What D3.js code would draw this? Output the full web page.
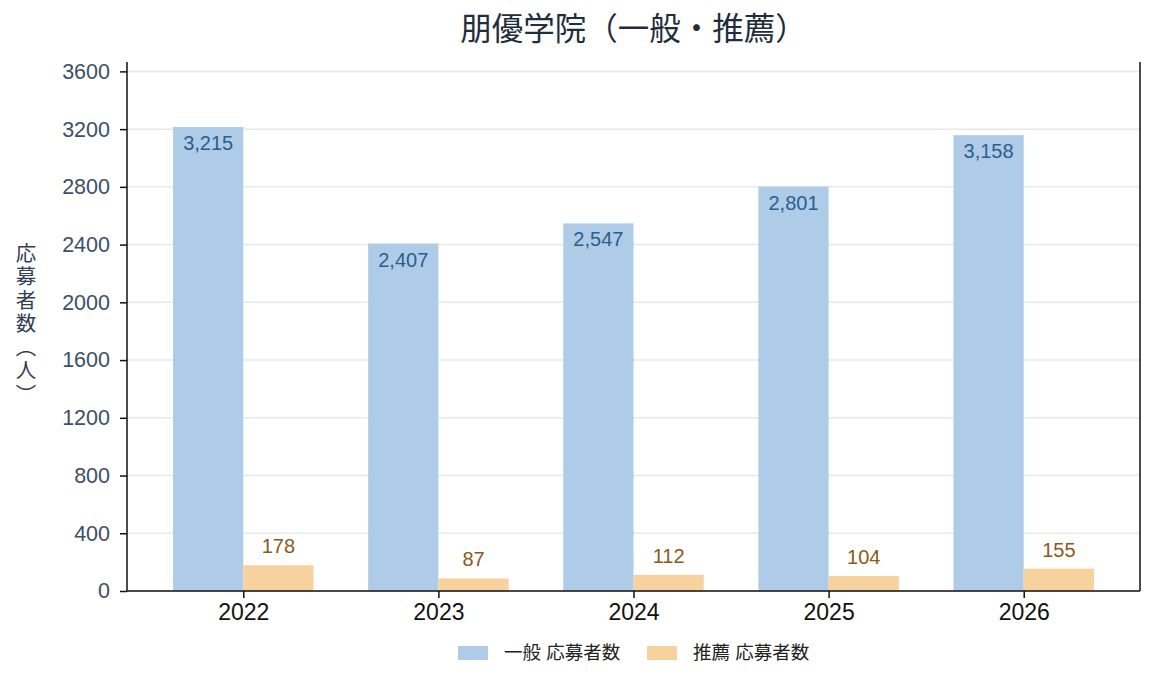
<!DOCTYPE html>
<html>
<head>
<meta charset="utf-8">
<script src="https://cdn.jsdelivr.net/npm/d3@7"></script>
<style>
  body { margin: 0; background: #fff; }
  text { font-family: "Liberation Sans", "Noto Sans CJK JP", sans-serif; }
</style>
</head>
<body>
<div class="chart"></div>
<script>
var years = ["2022", "2023", "2024", "2025", "2026"];
var ippan = [3215, 2407, 2547, 2801, 3158];
var suisen = [178, 87, 112, 104, 155];
var seriesNames = ["一般 応募者数", "推薦 応募者数"];
var yTicks = [0, 400, 800, 1200, 1600, 2000, 2400, 2800, 3200, 3600];

var width = 1155, height = 686;
var margin = { top: 62, left: 127, right: 15, bottom: 95 };
var innerW = width - margin.left - margin.right,
    innerH = height - margin.top - margin.bottom;

var barW = 0.36;
var colors = ["#aecbe8", "#f7d29e"];
var labelColors = ["#2b5f8e", "#8b5a1b"];

var svg = d3.select(".chart").append("svg")
    .attr("width", width)
    .attr("height", height);

var g = svg.append("g")
    .attr("transform", "translate(" + margin.left + "," + margin.top + ")");

// matplotlib-like 5% margins around the bars
var lo = -barW, hi = years.length - 1 + barW;
var pad = (hi - lo) * 0.05;
var x = d3.scaleLinear().domain([lo - pad, hi + pad]).range([0, innerW]);
var y = d3.scaleLinear().domain([0, d3.max(ippan) * 1.14]).range([innerH, 0]);

// grid
g.selectAll(".grid")
    .data(yTicks)
    .enter().append("line")
    .attr("x1", 0).attr("x2", innerW)
    .attr("y1", function(d) { return y(d); })
    .attr("y2", function(d) { return y(d); })
    .attr("stroke", "#e8e8e8")
    .attr("stroke-width", 1.5);

// bars
var bw = x(barW) - x(0);
var series = [ippan, suisen];
series.forEach(function(vals, s) {
    g.selectAll(".bar" + s)
        .data(vals)
        .enter().append("rect")
        .attr("x", function(d, i) { return x(i) - (s === 0 ? bw : 0); })
        .attr("y", function(d) { return y(d); })
        .attr("width", bw)
        .attr("height", function(d) { return innerH - y(d); })
        .attr("fill", colors[s]);
});

// value labels
g.selectAll(".lab0")
    .data(ippan)
    .enter().append("text")
    .attr("x", function(d, i) { return x(i) - bw / 2; })
    .attr("y", function(d) { return y(d) + 23; })
    .attr("text-anchor", "middle")
    .attr("font-size", 20)
    .attr("fill", labelColors[0])
    .text(function(d) { return d3.format(",")(d); });

g.selectAll(".lab1")
    .data(suisen)
    .enter().append("text")
    .attr("x", function(d, i) { return x(i) + bw / 2; })
    .attr("y", function(d) { return y(d) - 12; })
    .attr("text-anchor", "middle")
    .attr("font-size", 20)
    .attr("fill", labelColors[1])
    .text(function(d) { return d3.format(",")(d); });

// axes
var yAxis = g.append("g")
    .call(d3.axisLeft(y).tickValues(yTicks).tickSize(7).tickPadding(10).tickFormat(d3.format("d")));
yAxis.select(".domain").remove();
yAxis.selectAll("line").attr("stroke", "#111").attr("stroke-width", 1.5);
yAxis.selectAll("text").attr("font-size", 21.5).attr("fill", "#3d4f66")
    .style("font-family", "'Liberation Sans', sans-serif");

var xAxis = g.append("g")
    .attr("transform", "translate(0," + innerH + ")")
    .call(d3.axisBottom(x).tickValues(d3.range(years.length)).tickSize(7).tickPadding(6)
        .tickFormat(function(d) { return years[d]; }));
xAxis.select(".domain").remove();
xAxis.selectAll("line").attr("stroke", "#111").attr("stroke-width", 1.5);
xAxis.selectAll("text").attr("font-size", 23).attr("fill", "#111")
    .style("font-family", "'Liberation Sans', sans-serif");

// spines: left, right, bottom
g.append("line").attr("x1", 0).attr("x2", 0).attr("y1", 0).attr("y2", innerH)
    .attr("stroke", "#111").attr("stroke-width", 1.5);
g.append("line").attr("x1", innerW).attr("x2", innerW).attr("y1", 0).attr("y2", innerH)
    .attr("stroke", "#111").attr("stroke-width", 1.5);
g.append("line").attr("x1", 0).attr("x2", innerW).attr("y1", innerH).attr("y2", innerH)
    .attr("stroke", "#111").attr("stroke-width", 1.5);

// title
svg.append("text")
    .attr("x", margin.left + innerW / 2)
    .attr("y", 40)
    .attr("text-anchor", "middle")
    .attr("font-size", 31.5)
    .attr("fill", "#1f2d3d")
    .text("朋優学院（一般・推薦）");

// y label, vertical
svg.append("text")
    .attr("x", 26)
    .attr("y", 325)
    .attr("text-anchor", "middle")
    .style("writing-mode", "vertical-rl")
    .style("font-family", "'Noto Sans CJK JP', sans-serif")
    .style("letter-spacing", "3px")
    .attr("font-size", 20.5)
    .attr("fill", "#2f3e52")
    .text("応募者数（人）");

// legend
var legend = svg.append("g").attr("transform", "translate(458,646)");
var legX = [0, 189];
seriesNames.forEach(function(name, i) {
    legend.append("rect")
        .attr("x", legX[i]).attr("y", 0)
        .attr("width", 30).attr("height", 14)
        .attr("fill", colors[i]);
    legend.append("text")
        .attr("x", legX[i] + 46).attr("y", 13)
        .attr("font-size", 18.5)
        .attr("fill", "#222")
        .text(name);
});
</script>
</body>
</html>
